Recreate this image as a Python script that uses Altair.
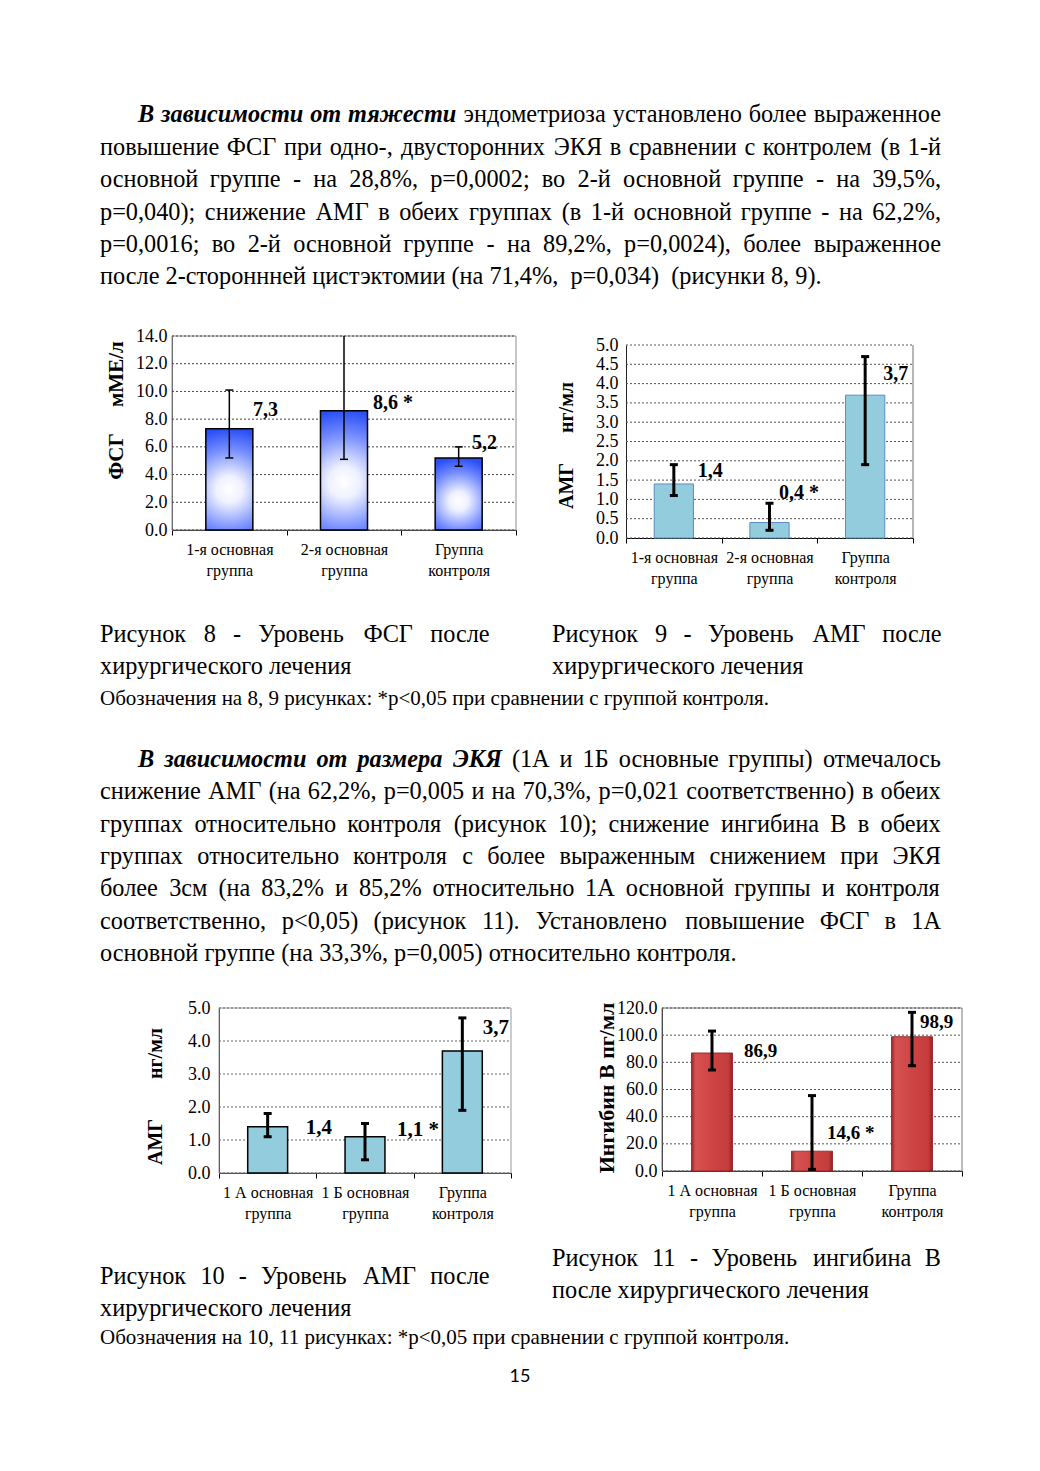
import os
import struct
import altair as alt
import pandas as pd

SERIF = "Liberation Serif"

# ---------------- chart data ----------------
fsg_groups = ["1-я основная|группа", "2-я основная|группа", "Группа|контроля"]
fsg_values = [7.3, 8.6, 5.2]
fsg_low = [5.2, 5.1, 4.6]
fsg_high = [10.1, 14.0, 6.0]
fsg_labels = ["7,3", "8,6 *", "5,2"]

amg1_groups = ["1-я основная|группа", "2-я основная|группа", "Группа|контроля"]
amg1_values = [1.4, 0.4, 3.7]
amg1_low = [1.1, 0.2, 1.9]
amg1_high = [1.9, 0.9, 4.7]
amg1_labels = ["1,4", "0,4 *", "3,7"]

amg2_groups = ["1 А основная|группа", "1 Б основная|группа", "Группа|контроля"]
amg2_values = [1.4, 1.1, 3.7]
amg2_low = [1.1, 0.4, 1.9]
amg2_high = [1.8, 1.5, 4.7]
amg2_labels = ["1,4", "1,1 *", "3,7"]

inh_groups = ["1 А основная|группа", "1 Б основная|группа", "Группа|контроля"]
inh_values = [86.9, 14.6, 98.9]
inh_low = [74.4, 1.2, 77.5]
inh_high = [103.0, 55.5, 116.8]
inh_labels = ["86,9", "14,6 *", "98,9"]

# label anchors (band units across the x axis, value units on y)
fsg_lab_x = [0.706, 1.752, 2.616]
fsg_lab_y = [8.66, 9.2, 6.3]
amg1_lab_x = [0.75, 1.60, 2.69]
amg1_lab_y = [1.73, 1.17, 4.25]
amg2_lab_x = [0.89, 1.83, 2.71]
amg2_lab_y = [1.35, 1.31, 4.38]
inh_lab_x = [0.82, 1.65, 2.58]
inh_lab_y = [88.3, 27.7, 109.9]

# ---------------- page text ----------------
P1_LEAD = "В зависимости от тяжести"
P1_LINES = [
    "эндометриоза установлено более выраженное",
    "повышение ФСГ при одно-, двусторонних ЭКЯ в сравнении с контролем (в 1-й",
    "основной группе - на 28,8%, p=0,0002; во 2-й основной группе - на 39,5%,",
    "p=0,040); снижение АМГ в обеих группах (в 1-й основной группе - на 62,2%,",
    "p=0,0016; во 2-й основной группе - на 89,2%, p=0,0024), более выраженное",
    "после 2-стороннней цистэктомии (на 71,4%, \u00a0p=0,034) \u00a0(рисунки 8, 9).",
]
P2_LEAD = "В зависимости от размера ЭКЯ"
P2_LINES = [
    "(1А и 1Б основные группы) отмечалось",
    "снижение АМГ (на 62,2%, p=0,005 и на 70,3%, p=0,021 соответственно) в обеих",
    "группах относительно контроля (рисунок 10); снижение ингибина В в обеих",
    "группах относительно контроля с более выраженным снижением при ЭКЯ",
    "более 3см (на 83,2% и 85,2% относительно 1А основной группы и контроля",
    "соответственно, p<0,05) (рисунок 11). Установлено повышение ФСГ в 1А",
    "основной группе (на 33,3%, p=0,005) относительно контроля.",
]
CAP8 = ["Рисунок 8 - Уровень ФСГ после", "хирургического лечения"]
CAP9 = ["Рисунок 9 - Уровень АМГ после", "хирургического лечения"]
CAP10 = ["Рисунок 10 - Уровень АМГ после", "хирургического лечения"]
CAP11 = ["Рисунок 11 - Уровень ингибина В", "после хирургического лечения"]
NOTE1 = "Обозначения на 8, 9 рисунках: *p<0,05 при сравнении с группой контроля."
NOTE2 = "Обозначения на 10, 11 рисунках: *p<0,05 при сравнении с группой контроля."
PAGE_NO = "15"

BODY = 24.3
NOTE = 21
LH = 32.4


# ---------------- font metrics (for justified lines) ----------------
def find_font(fname):
    roots = ["/usr/share/fonts", "/usr/local/share/fonts",
             os.path.expanduser("~/.fonts"), os.path.expanduser("~/.local/share/fonts")]
    for r in roots:
        if not os.path.isdir(r):
            continue
        for dp, _dn, fns in os.walk(r):
            if fname in fns:
                return os.path.join(dp, fname)
    return None


def load_widths(path):
    data = open(path, "rb").read()
    num = struct.unpack(">H", data[4:6])[0]
    tabs = {}
    for i in range(num):
        tag, _cs, off, _ln = struct.unpack(">4sIII", data[12 + 16 * i: 28 + 16 * i])
        tabs[tag.decode("latin-1")] = off
    upem = struct.unpack(">H", data[tabs["head"] + 18: tabs["head"] + 20])[0]
    nhm = struct.unpack(">H", data[tabs["hhea"] + 34: tabs["hhea"] + 36])[0]
    hm = tabs["hmtx"]
    adv = [struct.unpack(">H", data[hm + 4 * i: hm + 4 * i + 2])[0] for i in range(nhm)]
    cm = tabs["cmap"]
    nsub = struct.unpack(">H", data[cm + 2: cm + 4])[0]
    sub = None
    for i in range(nsub):
        pid, eid, off = struct.unpack(">HHI", data[cm + 4 + 8 * i: cm + 12 + 8 * i])
        if pid == 3 and eid == 1 and struct.unpack(">H", data[cm + off: cm + off + 2])[0] == 4:
            sub = cm + off
    segx2 = struct.unpack(">H", data[sub + 6: sub + 8])[0]
    seg = segx2 // 2
    p = sub + 14
    ends = struct.unpack(">%dH" % seg, data[p: p + segx2]); p += segx2 + 2
    starts = struct.unpack(">%dH" % seg, data[p: p + segx2]); p += segx2
    deltas = struct.unpack(">%dh" % seg, data[p: p + segx2]); p += segx2
    ro_base = p
    ros = struct.unpack(">%dH" % seg, data[p: p + segx2])
    cache = {}

    def width(ch):
        c = ord(ch)
        if c in cache:
            return cache[c]
        g = 0
        for i in range(seg):
            if ends[i] >= c:
                if starts[i] <= c:
                    if ros[i] == 0:
                        g = (c + deltas[i]) & 0xFFFF
                    else:
                        a = ro_base + 2 * i + ros[i] + 2 * (c - starts[i])
                        g = struct.unpack(">H", data[a: a + 2])[0]
                        if g:
                            g = (g + deltas[i]) & 0xFFFF
                break
        w = adv[min(g, nhm - 1)] / upem
        cache[c] = w
        return w
    return width


def make_measure(fname, fallback):
    try:
        path = find_font(fname)
        if path:
            return load_widths(path)
    except Exception:
        pass
    return lambda ch: fallback


W_REG = make_measure("LiberationSerif-Regular.ttf", 0.47)
W_BI = make_measure("LiberationSerif-BoldItalic.ttf", 0.5)


def text_w(s, kind, size):
    f = W_BI if kind == "bi" else W_REG
    return sum(f(ch) for ch in s) * size


def justify(words, left, right, y, size=BODY):
    widths = [text_w(w, k, size) for w, k in words]
    gap = (right - left - sum(widths)) / max(len(words) - 1, 1)
    out, x = [], left
    for (w, k), wd in zip(words, widths):
        out.append(dict(t=w, x=x, y=y, kind=k))
        x += wd + gap
    return out


def paragraph(lead, lines, left, right, indent, y0):
    items = []
    for i, line in enumerate(lines):
        y = y0 + i * LH
        words = [(w, "r") for w in line.split(" ")]
        lx = left
        if i == 0:
            words = [(w, "bi") for w in lead.split(" ")] + words
            lx = indent
        if i < len(lines) - 1:
            items += justify(words, lx, right, y)
        else:
            items.append(dict(t=line, x=lx, y=y, kind="r"))
    return items


def caption(lines, left, right, y0, dy=32):
    items = justify([(w, "r") for w in lines[0].split(" ")], left, right, y0)
    items.append(dict(t=lines[1], x=left, y=y0 + dy, kind="r"))
    return items


STYLES = {
    "r": dict(font=SERIF, fontSize=BODY, fontWeight="normal", fontStyle="normal", align="left"),
    "bi": dict(font=SERIF, fontSize=BODY, fontWeight="bold", fontStyle="italic", align="left"),
    "n": dict(font=SERIF, fontSize=NOTE, fontWeight="normal", fontStyle="normal", align="left"),
    "pg": dict(font="Lato", fontSize=18, fontWeight="normal", fontStyle="normal", align="center"),
}


def text_chart(items, w, h):
    df = pd.DataFrame(items)
    layers = []
    for kind, st in STYLES.items():
        sub = df[df["kind"] == kind]
        if len(sub) == 0:
            continue
        layers.append(
            alt.Chart(sub).mark_text(baseline="alphabetic", color="black", **st).encode(
                x=alt.X("x:Q", scale=None, axis=None),
                y=alt.Y("y:Q", scale=None, axis=None),
                text="t:N",
            )
        )
    return alt.layer(*layers).properties(width=w, height=h)


def bar_chart(groups, values, low, high, labels, lab_x, lab_y, *, W, H, a, b, top, bottom,
              ymax, ticks, title, title_x, title_y, title_size, fill, stroke, stroke_w,
              err_w, tick_font, lab_pad, val_font, frame, ydom, grid_color,
              frame_top=True, cap_max=None):
    """Cell of W x H px; the plot rectangle is [a, b] x [top, bottom] inside it."""
    df = pd.DataFrame({"g": groups, "v": values, "lo": low, "hi": high,
                       "t": labels, "lx": lab_x, "ly": lab_y})
    yscale = alt.Scale(domain=[0, ymax], range=[bottom, top], nice=False, zero=True)
    xscale = alt.Scale(range=[a, b], paddingInner=0, paddingOuter=0)
    lscale = alt.Scale(domain=[0, 3], range=[a, b], nice=False, zero=False)
    xaxis = alt.Axis(title=None, labelAngle=0, tickBand="extent", ticks=True, tickSize=5,
                     tickColor="black", domainColor="black", domainWidth=1,
                     labelExpr="split(datum.label, '|')", labelFont=SERIF, labelFontSize=16,
                     labelLineHeight=21, labelPadding=6, labelColor="black", grid=False,
                     labelOverlap=False, labelBound=False, offset=-(H - bottom))
    yaxis = alt.Axis(values=ticks, format=".1f", grid=False, ticks=False, tickSize=0,
                     domainColor=ydom, domainWidth=1, labelFont=SERIF, labelFontSize=tick_font,
                     labelColor="black", labelPadding=lab_pad, labelOverlap=False,
                     labelFlush=False, titleFont=SERIF, titleFontSize=title_size,
                     titleFontWeight="bold", titleColor="black", titleAngle=270,
                     titleX=title_x, titleY=title_y, titleAlign="center",
                     titleBaseline="middle", offset=-a)
    one = pd.DataFrame({"s": [0]})
    if frame_top:
        frame_l = alt.Chart(one).mark_rect(fillOpacity=0, stroke=frame, strokeWidth=1).encode(
            x=alt.value(a), x2=alt.value(b), y=alt.value(top), y2=alt.value(bottom)
        )
    else:
        frame_l = alt.Chart(one).mark_rule(color=frame, strokeWidth=1).encode(
            x=alt.value(b), y=alt.value(top), y2=alt.value(bottom)
        )
    grid = alt.Chart(pd.DataFrame({"tv": ticks})).mark_rule(
        color=grid_color, strokeDash=[2, 2], strokeWidth=1
    ).encode(
        y=alt.Y("tv:Q", scale=yscale, axis=yaxis, title=title),
        x=alt.value(a), x2=alt.value(b),
    )
    base = alt.Chart(df)
    bars = base.mark_bar(width=alt.RelativeBandSize(0.41), fill=fill, stroke=stroke,
                         strokeWidth=stroke_w).encode(
        x=alt.X("g:N", sort=groups, scale=xscale, axis=xaxis),
        y=alt.Y("v:Q", scale=yscale, axis=yaxis, title=title),
    )
    rules = base.mark_rule(color="black", strokeWidth=err_w).encode(
        x=alt.X("g:N", sort=groups, scale=xscale, axis=None),
        y=alt.Y("lo:Q", scale=yscale, axis=yaxis, title=title),
        y2="hi:Q",
    )
    caps_base = base.transform_fold(["lo", "hi"], as_=["k", "e"])
    if cap_max is not None:
        caps_base = caps_base.transform_filter(alt.datum.e < cap_max)
    caps = caps_base.mark_tick(orient="horizontal", size=8, thickness=err_w, color="black",
                               opacity=1).encode(
        x=alt.X("g:N", sort=groups, scale=xscale, axis=None),
        y=alt.Y("e:Q", scale=yscale, axis=yaxis, title=title),
    )
    texts = base.mark_text(align="left", baseline="middle", font=SERIF, fontWeight="bold",
                           fontSize=val_font, color="black").encode(
        x=alt.X("lx:Q", scale=lscale, axis=None),
        y=alt.Y("ly:Q", scale=yscale, axis=yaxis, title=title),
        text="t:N",
    )
    return (
        alt.layer(frame_l, grid, bars, rules, caps, texts)
        .resolve_scale(x="independent")
        .properties(width=W, height=H)
    )


NB = "\u00a0"
blue_grad = alt.RadialGradient(
    gradient="radial", x1=0.5, y1=0.6, r1=0, x2=0.5, y2=0.6, r2=0.6,
    stops=[alt.GradientStop(offset=0, color="#ffffff"),
           alt.GradientStop(offset=0.22, color="#eef1ff"),
           alt.GradientStop(offset=0.65, color="#7990ff"),
           alt.GradientStop(offset=1, color="#2b4ff5")],
)
red_grad = alt.LinearGradient(
    gradient="linear", x1=0, y1=0, x2=1, y2=0,
    stops=[alt.GradientStop(offset=0, color="#9a2626"),
           alt.GradientStop(offset=0.1, color="#d65252"),
           alt.GradientStop(offset=0.5, color="#cf4444"),
           alt.GradientStop(offset=0.9, color="#c43c3c"),
           alt.GradientStop(offset=1, color="#8c2222")],
)

# rows (page px): A 8-320, B 320-600, C 600-990, D 990-1235, E 1235-1400
c8 = bar_chart(fsg_groups, fsg_values, fsg_low, fsg_high, fsg_labels, fsg_lab_x, fsg_lab_y,
               W=532, H=280, a=164, b=508, top=16, bottom=210,
               ymax=14, ticks=[0, 2, 4, 6, 8, 10, 12, 14],
               title="ФСГ" + NB * 5 + "мМЕ/л", title_x=-56, title_y=90, title_size=21,
               fill=blue_grad, stroke="black", stroke_w=1.5, err_w=1.5, tick_font=18,
               lab_pad=5, val_font=20, frame="#8c8c8c", ydom="#555555",
               grid_color="#444444", cap_max=13.9)
c9 = bar_chart(amg1_groups, amg1_values, amg1_low, amg1_high, amg1_labels, amg1_lab_x,
               amg1_lab_y, W=492, H=280, a=86, b=373, top=25, bottom=218, ymax=5,
               ticks=[0, 0.5, 1, 1.5, 2, 2.5, 3, 3.5, 4, 4.5, 5],
               title="АМГ" + NB * 6 + "нг/мл", title_x=-60, title_y=125, title_size=20,
               fill="#93cddd", stroke="#5b8bc4", stroke_w=1, err_w=3, tick_font=18,
               lab_pad=8, val_font=20, frame="#6e6e6e", ydom="#222222",
               grid_color="#555555", frame_top=False)
c10 = bar_chart(amg2_groups, amg2_values, amg2_low, amg2_high, amg2_labels, amg2_lab_x,
                amg2_lab_y, W=572, H=245, a=211, b=503, top=18, bottom=183, ymax=5,
                ticks=[0, 1, 2, 3, 4, 5],
                title="АМГ" + NB * 8 + "нг/мл", title_x=-64, title_y=106, title_size=20,
                fill="#93cddd", stroke="black", stroke_w=1.5, err_w=3, tick_font=18,
                lab_pad=9, val_font=21, frame="#999999", ydom="#222222",
                grid_color="#666666")
c11 = bar_chart(inh_groups, inh_values, inh_low, inh_high, inh_labels, inh_lab_x, inh_lab_y,
                W=452, H=245, a=82, b=382, top=18, bottom=181, ymax=120,
                ticks=[0, 20, 40, 60, 80, 100, 120],
                title="Ингибин В пг/мл", title_x=-56, title_y=97.5, title_size=22,
                fill=red_grad, stroke="#8c1c1c", stroke_w=0.8, err_w=3, tick_font=18,
                lab_pad=5, val_font=19, frame="#777777", ydom="#222222",
                grid_color="#555555")

# text rows (coordinates inside each row; page x = x + 8, page y = y + row top)
rowA = paragraph(P1_LEAD, P1_LINES, 92, 933, 130, 114.3)
rowC = (caption(CAP8, 92, 481, 42.2) + caption(CAP9, 544, 933, 42.2)
        + [dict(t=NOTE1, x=92, y=104.5, kind="n")]
        + paragraph(P2_LEAD, P2_LINES, 92, 933, 130, 166.8))
rowE = (caption(CAP10, 92, 481, 49) + caption(CAP11, 544, 933, 30.5)
        + [dict(t=NOTE2, x=92, y=109, kind="n"), dict(t=PAGE_NO, x=512, y=147, kind="pg")])

page = alt.vconcat(
    text_chart(rowA, 1024, 312),
    alt.hconcat(c8, c9, spacing=0),
    text_chart(rowC, 1024, 390),
    alt.hconcat(c10, c11, spacing=0),
    text_chart(rowE, 1024, 165),
    spacing=0,
).properties(padding=0).configure(background="white", font=SERIF).configure_view(stroke=None)

page.save("out.html", embed_options={"renderer": "svg", "actions": False})
